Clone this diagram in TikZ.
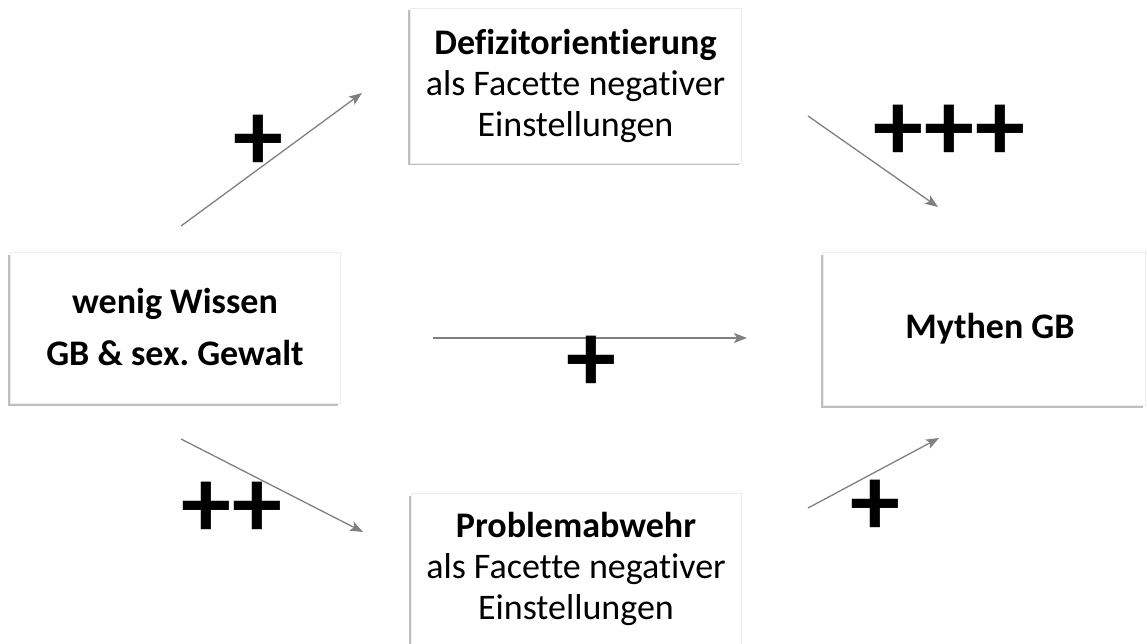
\documentclass[tikz,border=0pt]{standalone}
\usepackage{fontspec}
\setmainfont[Ligatures=NoCommon]{Carlito}
\usetikzlibrary{arrows.meta,shadows}
\definecolor{arrowgray}{RGB}{128,128,128}
\frenchspacing
\tikzset{
  box/.style={rectangle, fill=white, draw=gray!15, line width=0.8pt, inner sep=0pt,
    align=center, font=\fontsize{36}{41}\selectfont,
    general shadow={shadow xshift=-2pt, shadow yshift=-2.5pt, fill=gray!50}},
  conn/.style={draw=arrowgray, line width=1.3pt, -{Stealth[length=13pt,width=10pt,inset=3pt]}},
  sign/.style={font=\fontsize{100}{100}\selectfont\bfseries, inner sep=0pt}
}
\begin{document}
\begin{tikzpicture}[x=1pt,y=-1pt]
\useasboundingbox (0,0) rectangle (1147,644);
\node[box, minimum width=331pt, minimum height=155pt] (top) at (575.5,85.5)
  {\textbf{Defizitorientierung}\\als Facette negativer\\Einstellungen};
\node[box, minimum width=330pt, minimum height=151pt, font=\fontsize{36}{52}\selectfont\bfseries] (left) at (175,327.5)
  {wenig Wissen\\GB \& sex. Gewalt};
\node[box, minimum width=322pt, minimum height=153pt, font=\fontsize{36}{41}\selectfont\bfseries] (right) at (984,328.5)
  {\hspace{12pt}Mythen GB};
\node[box, minimum width=330pt, minimum height=151pt] (bottom) at (576,568.5)
  {\textbf{Problemabwehr}\\als Facette negativer\\Einstellungen};
% connector end points
\coordinate (a1s) at (181,226); \coordinate (a1e) at (362,93);
\coordinate (a2s) at (808,116); \coordinate (a2e) at (938,207);
\coordinate (a3s) at (433,338); \coordinate (a3e) at (747,338);
\coordinate (a4s) at (181,439); \coordinate (a4e) at (363,532);
\coordinate (a5s) at (808,508); \coordinate (a5e) at (939,438);
\draw[conn] (a1s) -- (a1e);
\draw[conn] (a2s) -- (a2e);
\draw[conn] (a3s) -- (a3e);
\draw[conn] (a4s) -- (a4e);
\draw[conn] (a5s) -- (a5e);
% signs
\node[sign] (p1) at (258,143) {+};
\node[sign] (p2) at (949,133) {+++};
\node[sign] (p3) at (591,364) {+};
\node[sign] (p4) at (232,510) {++};
\node[sign] (p5) at (875,508) {+};
\end{tikzpicture}
\end{document}
